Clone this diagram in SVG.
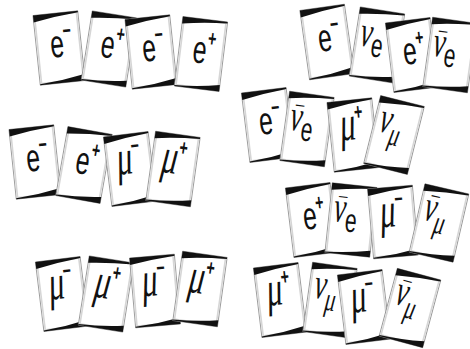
<svg xmlns="http://www.w3.org/2000/svg" xmlns:xlink="http://www.w3.org/1999/xlink" width="470" height="349" viewBox="0 0 470 349">
<style>
.s{font-family:"Liberation Sans",Arial,sans-serif;font-size:26px;fill:#111}
.g{font-family:"Liberation Serif","Times New Roman",serif;font-style:italic;font-size:29px;fill:#111}
.mu{font-size:33px}
.sup{font-family:"Liberation Sans",Arial,sans-serif;font-style:normal;font-size:15px;font-weight:bold}
.sub{font-family:"Liberation Sans",Arial,sans-serif;font-style:normal;font-size:22px}
.subg{font-size:22px}
.bar{font-family:"Liberation Sans",Arial,sans-serif;font-size:16px;fill:#111}
</style>
<defs>
<g id="card">
<rect x="-22.5" y="-35" width="45" height="70" fill="#fff" stroke="#8a8a8a" stroke-width="0.8"/>
<rect x="-21" y="-33.5" width="42" height="67" fill="none" stroke="#d6d6d6" stroke-width="1.6"/>
<path d="M-22.5,-35 L22.5,-35 L22.5,-33.5 Q0,-32 -22.5,-28 Z" fill="#111"/>
<path d="M22.5,35 L-22.5,35 L-22.5,34 Q0,33 22.5,28.5 Z" fill="#111"/>
</g>
<g id="em"><use xlink:href="#card"/><g transform="scale(0.95,1.5)"><text class="s" x="-9" y="6">e<tspan class="sup" dy="-12">−</tspan></text></g></g>
<g id="ep"><use xlink:href="#card"/><g transform="scale(0.95,1.5)"><text class="s" x="-9" y="6">e<tspan class="sup" dy="-12">+</tspan></text></g></g>
<g id="mm"><use xlink:href="#card"/><g transform="scale(0.95,1.5)"><text class="g mu" x="-13" y="3">μ<tspan class="sup" dy="-13">−</tspan></text></g></g>
<g id="mp"><use xlink:href="#card"/><g transform="scale(0.95,1.5)"><text class="g mu" x="-13" y="3">μ<tspan class="sup" dy="-13">+</tspan></text></g></g>
<g id="ne"><use xlink:href="#card"/><g transform="scale(0.95,1.5)"><text class="g" x="-19" y="2">ν<tspan class="sub" dy="6">e</tspan></text></g></g>
<g id="neb"><use xlink:href="#card"/><g transform="scale(0.95,1.5)"><text class="bar" x="-15" y="-3">¯</text><text class="g" x="-19" y="2">ν<tspan class="sub" dy="6">e</tspan></text></g></g>
<g id="nm"><use xlink:href="#card"/><g transform="scale(0.95,1.5)"><text class="g" x="-18" y="0">ν<tspan class="subg" dy="7">μ</tspan></text></g></g>
<g id="nmb"><use xlink:href="#card"/><g transform="scale(0.95,1.5)"><text class="bar" x="-14" y="-5">¯</text><text class="g" x="-18" y="0">ν<tspan class="subg" dy="7">μ</tspan></text></g></g>
</defs>

<g id="cards-row1-left">
<g id="c1"><use xlink:href="#em" transform="translate(59,48) rotate(-6)"/></g>
<g id="c2"><use xlink:href="#ep" transform="translate(109,49) rotate(9)"/></g>
<g id="c3"><use xlink:href="#em" transform="translate(151,52) rotate(-6)"/></g>
<g id="c4"><use xlink:href="#ep" transform="translate(201,54) rotate(7)"/></g>
</g>
<g id="cards-row1-right">
<g id="c5"><use xlink:href="#em" transform="translate(327,42) rotate(-8)"/></g>
<g id="c6"><use xlink:href="#ne" transform="translate(377,45) rotate(9)"/></g>
<g id="c7"><use xlink:href="#ep" transform="translate(412,55) rotate(-7)"/></g>
<g id="c8"><use xlink:href="#neb" transform="translate(450,55) rotate(8)"/></g>
</g>
<g id="cards-row2-left">
<g id="c9"><use xlink:href="#em" transform="translate(35,162) rotate(-6)"/></g>
<g id="c10"><use xlink:href="#ep" transform="translate(84,165) rotate(10)"/></g>
<g id="c11"><use xlink:href="#mm" transform="translate(130,169) rotate(-7)"/></g>
<g id="c12"><use xlink:href="#mp" transform="translate(173,169) rotate(8)"/></g>
</g>
<g id="cards-row2-right">
<g id="c13"><use xlink:href="#em" transform="translate(268,125) rotate(-7)"/></g>
<g id="c14"><use xlink:href="#neb" transform="translate(307,129) rotate(8)"/></g>
<g id="c15"><use xlink:href="#mp" transform="translate(353,135) rotate(-6)"/></g>
<g id="c16"><use xlink:href="#nm" transform="translate(394,135) rotate(14)"/></g>
</g>
<g id="cards-row3-right">
<g id="c17"><use xlink:href="#ep" transform="translate(312,220) rotate(-7)"/></g>
<g id="c18"><use xlink:href="#neb" transform="translate(351,220) rotate(6)"/></g>
<g id="c19"><use xlink:href="#mm" transform="translate(393,222) rotate(-5)"/></g>
<g id="c20"><use xlink:href="#nmb" transform="translate(439,223) rotate(13)"/></g>
</g>
<g id="cards-row4-left">
<g id="c21"><use xlink:href="#mm" transform="translate(62,294) rotate(-7)"/></g>
<g id="c22"><use xlink:href="#mp" transform="translate(106,294) rotate(9)"/></g>
<g id="c23"><use xlink:href="#mm" transform="translate(155,291) rotate(-5)"/></g>
<g id="c24"><use xlink:href="#mp" transform="translate(200,289) rotate(8)"/></g>
</g>
<g id="cards-row4-right">
<g id="c25"><use xlink:href="#mp" transform="translate(280,300) rotate(-7)"/></g>
<g id="c26"><use xlink:href="#nm" transform="translate(330,300) rotate(8)"/></g>
<g id="c27"><use xlink:href="#mm" transform="translate(364,307) rotate(-7)"/></g>
<g id="c28"><use xlink:href="#nmb" transform="translate(410,308) rotate(15)"/></g>
</g>
<g id="connectors"/>
</svg>
